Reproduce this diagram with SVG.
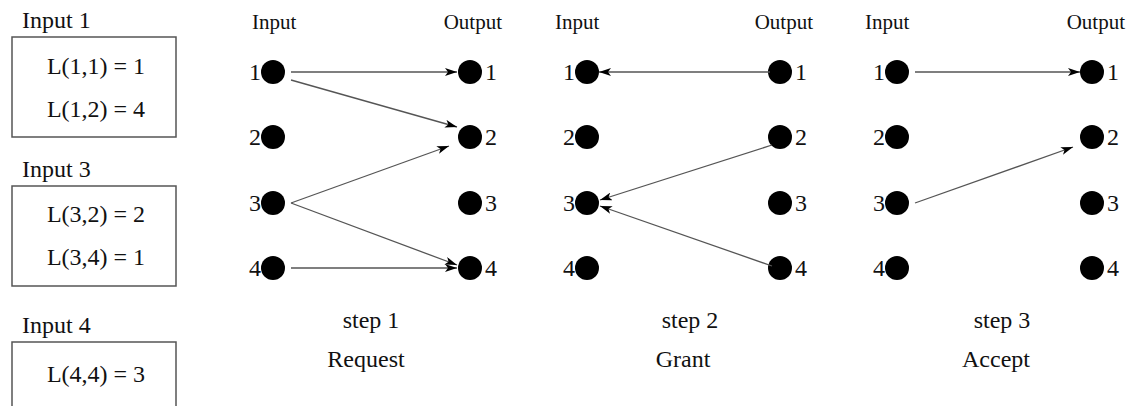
<svg xmlns="http://www.w3.org/2000/svg" width="1128" height="406" viewBox="0 0 1128 406">
<defs>
<style>
text{font-family:"Liberation Serif","Times New Roman",serif;fill:#111}
.lbl{font-size:24px}
.hdr{font-size:21px}
.num{font-size:24px}
.box{fill:none;stroke:#555;stroke-width:1.5}
.dot{fill:#000}
.edge{stroke:#555;stroke-width:1.3;fill:none;marker-end:url(#ah)}
</style>
<marker id="ah" markerWidth="13" markerHeight="8" refX="12" refY="4" orient="auto" markerUnits="userSpaceOnUse">
<path d="M0,0 L12,4 L0,8 L3,4 z" fill="#000"/>
</marker>
</defs>
<rect width="1128" height="406" fill="#fff"/>

<g id="input1">
<text class="lbl" x="22" y="28">Input 1</text>
<rect class="box" x="12" y="37" width="164" height="100"/>
<text class="lbl" x="96" y="74" text-anchor="middle">L(1,1) = 1</text>
<text class="lbl" x="96" y="117" text-anchor="middle">L(1,2) = 4</text>
</g>
<g id="input3">
<text class="lbl" x="22" y="177">Input 3</text>
<rect class="box" x="12" y="186" width="164" height="100"/>
<text class="lbl" x="96" y="222" text-anchor="middle">L(3,2) = 2</text>
<text class="lbl" x="96" y="265" text-anchor="middle">L(3,4) = 1</text>
</g>
<g id="input4">
<text class="lbl" x="22" y="333">Input 4</text>
<rect class="box" x="12" y="342" width="164" height="80"/>
<text class="lbl" x="96" y="382" text-anchor="middle">L(4,4) = 3</text>
</g>

<g id="step1">
<text class="hdr" x="252" y="29">Input</text>
<text class="hdr" x="502" y="29" text-anchor="end">Output</text>
<g id="s1-in">
<circle class="dot" cx="273" cy="72" r="12"/><text class="num" x="261" y="80" text-anchor="end">1</text>
<circle class="dot" cx="273" cy="137" r="12"/><text class="num" x="261" y="145" text-anchor="end">2</text>
<circle class="dot" cx="273" cy="203" r="12"/><text class="num" x="261" y="211" text-anchor="end">3</text>
<circle class="dot" cx="273" cy="268" r="12"/><text class="num" x="261" y="276" text-anchor="end">4</text>
</g>
<g id="s1-out">
<circle class="dot" cx="470" cy="72" r="12"/><text class="num" x="485" y="80">1</text>
<circle class="dot" cx="470" cy="137" r="12"/><text class="num" x="485" y="145">2</text>
<circle class="dot" cx="470" cy="203" r="12"/><text class="num" x="485" y="211">3</text>
<circle class="dot" cx="470" cy="268" r="12"/><text class="num" x="485" y="276">4</text>
</g>
<text class="lbl" x="371" y="328" text-anchor="middle">step 1</text>
<text class="lbl" x="366" y="367" text-anchor="middle">Request</text>
</g>

<g id="step2">
<text class="hdr" x="555" y="29">Input</text>
<text class="hdr" x="813" y="29" text-anchor="end">Output</text>
<g id="s2-in">
<circle class="dot" cx="587" cy="72" r="12"/><text class="num" x="575" y="80" text-anchor="end">1</text>
<circle class="dot" cx="587" cy="137" r="12"/><text class="num" x="575" y="145" text-anchor="end">2</text>
<circle class="dot" cx="587" cy="203" r="12"/><text class="num" x="575" y="211" text-anchor="end">3</text>
<circle class="dot" cx="587" cy="268" r="12"/><text class="num" x="575" y="276" text-anchor="end">4</text>
</g>
<g id="s2-out">
<circle class="dot" cx="780" cy="72" r="12"/><text class="num" x="795" y="80">1</text>
<circle class="dot" cx="780" cy="137" r="12"/><text class="num" x="795" y="145">2</text>
<circle class="dot" cx="780" cy="203" r="12"/><text class="num" x="795" y="211">3</text>
<circle class="dot" cx="780" cy="268" r="12"/><text class="num" x="795" y="276">4</text>
</g>
<text class="lbl" x="690" y="328" text-anchor="middle">step 2</text>
<text class="lbl" x="683" y="367" text-anchor="middle">Grant</text>
</g>

<g id="step3">
<text class="hdr" x="865" y="29">Input</text>
<text class="hdr" x="1125" y="29" text-anchor="end">Output</text>
<g id="s3-in">
<circle class="dot" cx="897" cy="72" r="12"/><text class="num" x="885" y="80" text-anchor="end">1</text>
<circle class="dot" cx="897" cy="137" r="12"/><text class="num" x="885" y="145" text-anchor="end">2</text>
<circle class="dot" cx="897" cy="203" r="12"/><text class="num" x="885" y="211" text-anchor="end">3</text>
<circle class="dot" cx="897" cy="268" r="12"/><text class="num" x="885" y="276" text-anchor="end">4</text>
</g>
<g id="s3-out">
<circle class="dot" cx="1092" cy="72" r="12"/><text class="num" x="1107" y="80">1</text>
<circle class="dot" cx="1092" cy="137" r="12"/><text class="num" x="1107" y="145">2</text>
<circle class="dot" cx="1092" cy="203" r="12"/><text class="num" x="1107" y="211">3</text>
<circle class="dot" cx="1092" cy="268" r="12"/><text class="num" x="1107" y="276">4</text>
</g>
<text class="lbl" x="1002" y="328" text-anchor="middle">step 3</text>
<text class="lbl" x="996" y="367" text-anchor="middle">Accept</text>
</g>

<g id="connectors">
<line class="edge" x1="291" y1="72" x2="457" y2="72"/>
<line class="edge" x1="291" y1="80" x2="457" y2="127"/>
<line class="edge" x1="291" y1="203" x2="449" y2="146"/>
<line class="edge" x1="291" y1="203" x2="457" y2="265"/>
<line class="edge" x1="291" y1="268" x2="457" y2="268"/>
<line class="edge" x1="770" y1="72" x2="599" y2="72"/>
<line class="edge" x1="772" y1="145" x2="600" y2="200"/>
<line class="edge" x1="772" y1="266" x2="600" y2="206"/>
<line class="edge" x1="915" y1="72" x2="1080" y2="72"/>
<line class="edge" x1="915" y1="203" x2="1073" y2="147"/>
</g>
</svg>
